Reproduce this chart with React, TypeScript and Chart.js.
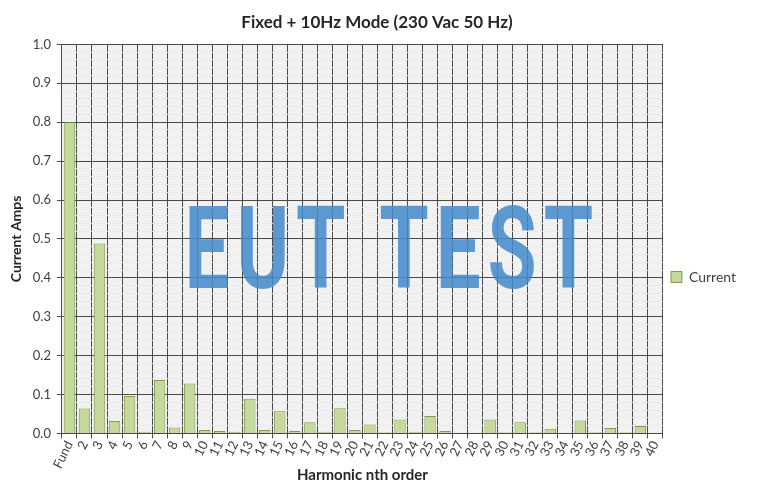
import { useEffect, useRef } from "react"
import { Chart, registerables } from "chart.js"

Chart.register(...registerables)

// Harmonic orders on the x axis
const categories = [
  "Fund", "2", "3", "4", "5", "6", "7", "8", "9", "10",
  "11", "12", "13", "14", "15", "16", "17", "18", "19", "20",
  "21", "22", "23", "24", "25", "26", "27", "28", "29", "30",
  "31", "32", "33", "34", "35", "36", "37", "38", "39", "40",
]

// Measured current per harmonic (A)
const currentAmps = [
  0.8, 0.064, 0.488, 0.032, 0.096, 0.004, 0.137, 0.015, 0.128, 0.009,
  0.006, 0.004, 0.089, 0.009, 0.057, 0.006, 0.029, 0.004, 0.065, 0.009,
  0.023, 0.003, 0.036, 0.004, 0.045, 0.006, 0.002, 0.002, 0.036, 0.003,
  0.029, 0.003, 0.012, 0.002, 0.033, 0.003, 0.014, 0.003, 0.019, 0.002,
]

const yTicks = [0, 0.1, 0.2, 0.3, 0.4, 0.5, 0.6, 0.7, 0.8, 0.9, 1.0]

const FONT = "Lato, 'Open Sans', sans-serif"

const isMajor = (v: number) => yTicks.some((t) => Math.abs(t - v) < 1e-6)

// plot area fill + watermark
const plotDecor = {
  id: "plotDecor",
  beforeDraw(chart: any) {
    const { ctx, chartArea } = chart
    ctx.save()
    ctx.fillStyle = "#f2f2f2"
    ctx.fillRect(chartArea.left, chartArea.top, chartArea.width, chartArea.height)
    ctx.restore()
  },
  afterDraw(chart: any) {
    const { ctx, chartArea } = chart
    const text = "EUT TEST"
    ctx.save()
    ctx.font = `700 115px Roboto, sans-serif`
    ;(ctx as any).letterSpacing = "10px"
    const w = ctx.measureText(text).width - 10
    const targetW = chartArea.width * 0.68
    const x = chartArea.left + chartArea.width * 0.204
    const y = chartArea.top + chartArea.height * 0.625
    ctx.translate(x, y)
    ctx.scale(targetW / w, 1)
    ctx.fillStyle = "rgba(66, 137, 203, 0.85)"
    ctx.textBaseline = "alphabetic"
    ctx.fillText(text, 0, 0)
    ctx.restore()
  },
}

export default function App() {
  const chartRef = useRef<HTMLCanvasElement>(null)
  const chartInstance = useRef<Chart | null>(null)

  useEffect(() => {
    if (!chartRef.current) return
    if (chartInstance.current) chartInstance.current.destroy()

    chartInstance.current = new Chart(chartRef.current, {
      type: "bar",
      data: {
        labels: categories,
        datasets: [
          {
            label: "Current",
            data: currentAmps,
            backgroundColor: "#c6d89c",
            borderColor: "#829c4a",
            borderWidth: 1,
            barPercentage: 0.76,
            categoryPercentage: 1,
          },
        ],
      },
      options: {
        animation: false,
        responsive: true,
        maintainAspectRatio: false,
        layout: { padding: { top: 4, right: 6, bottom: 0 } },
        scales: {
          x: {
            offset: true,
            afterFit: (scale) => {
              scale.height -= 5
            },
            grid: {
              offset: true,
              color: "#4a4a4a",
              tickLength: 5,
              drawOnChartArea: true,
            },
            border: { color: "#4a4a4a" },
            ticks: {
              color: "#404040",
              font: { family: FONT, size: 13 },
              minRotation: 64,
              maxRotation: 64,
              autoSkip: false,
              padding: 0,
            },
            title: {
              display: true,
              text: "Harmonic nth order",
              color: "#262626",
              font: { family: FONT, size: 15, weight: "bold" },
              padding: { top: 0, bottom: 0 },
            },
          },
          y: {
            min: 0,
            max: 1,
            ticks: {
              stepSize: 0.02,
              autoSkip: false,
              padding: 6,
              color: "#404040",
              font: { family: FONT, size: 13 },
              callback: (value) => (isMajor(Number(value)) ? Number(value).toFixed(1) : ""),
            },
            grid: {
              color: (c) => (isMajor(c.tick.value) ? "#4a4a4a" : "#ebebeb"),
              tickColor: (c) => (isMajor(c.tick.value) ? "#4a4a4a" : "rgba(0,0,0,0)"),
              tickLength: 5,
            },
            border: { color: "#4a4a4a" },
            title: {
              display: true,
              text: "Current Amps",
              color: "#262626",
              font: { family: FONT, size: 14, weight: "bold" },
              padding: { top: 0, bottom: 2 },
            },
          },
        },
        plugins: {
          title: {
            display: true,
            text: "Fixed + 10Hz Mode (230 Vac 50 Hz)",
            color: "#262626",
            font: { family: FONT, size: 17, weight: "bold" },
            padding: { top: 0, bottom: 12 },
          },
          legend: {
            position: "right",
            title: {
              display: true,
              text: " ",
              font: { size: 10 },
              padding: 23,
            },
            labels: {
              color: "#404040",
              font: { family: FONT, size: 14 },
              boxWidth: 11,
              boxHeight: 11,
              padding: 8,
            },
          },
          tooltip: { enabled: false },
        },
      },
      plugins: [plotDecor],
    })

    return () => {
      if (chartInstance.current) {
        chartInstance.current.destroy()
        chartInstance.current = null
      }
    }
  }, [])

  return (
    <div style={{ width: 744, height: 476, position: "relative" }}>
      <canvas ref={chartRef} />
    </div>
  )
}
